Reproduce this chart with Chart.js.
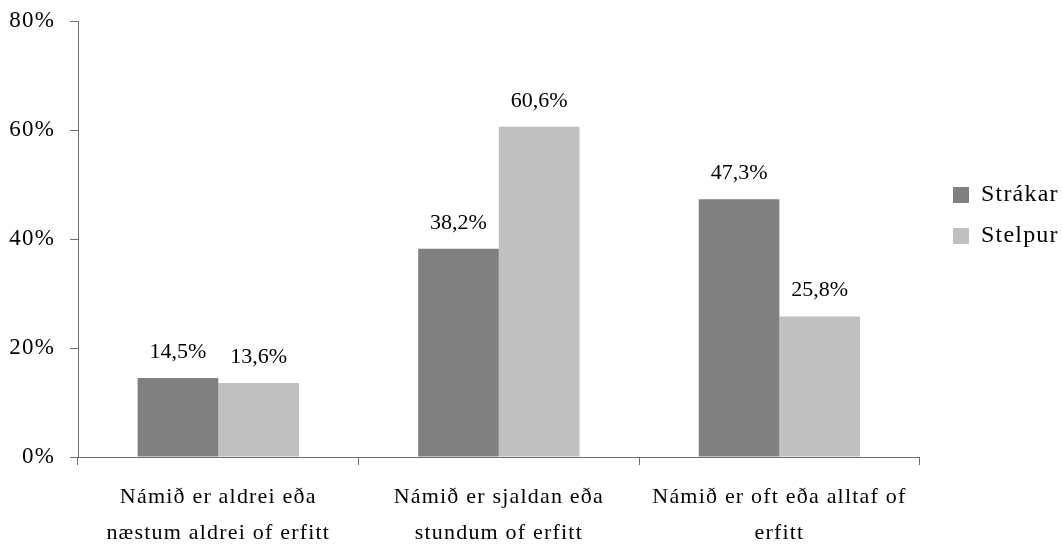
<!DOCTYPE html>
<html>
<head>
<meta charset="utf-8">
<script src="https://cdn.jsdelivr.net/npm/chart.js@4"></script>
<style>
  html, body { margin: 0; padding: 0; background: #fff; }
  #wrap { width: 1063px; height: 547px; }
</style>
</head>
<body>
<div id="wrap"><canvas id="chart" width="1063" height="547"></canvas></div>
<script>
"use strict";

// Data
const categories = [
  ["Námið er aldrei eða", "næstum aldrei of erfitt"],
  ["Námið er sjaldan eða", "stundum of erfitt"],
  ["Námið er oft eða alltaf of", "erfitt"]
];
const seriesNames = ["Strákar", "Stelpur"];
const strakar = [14.5, 38.2, 47.3];
const stelpur = [13.6, 60.6, 25.8];
const yTicks = [0, 20, 40, 60, 80];

const FONT = "'Liberation Serif', 'Times New Roman', serif";
const AXIS_COLOR = "#6e6e6e";

// Format like 14,5%
function pct(v) {
  return v.toFixed(1).replace(".", ",") + "%";
}

// Text spacing for axis / legend text, moves legend, draws value labels
const tweaks = {
  id: "tweaks",
  afterLayout(chart) {
    const lg = chart.legend;
    const h = lg.bottom - lg.top;
    const w = lg.right - lg.left;
    const pad = lg.options.labels.padding;
    const itemH = lg.options.labels.font.size;
    const colH = 2 * (itemH + pad);
    // first legend row centred at y = 195
    lg.top = 195 - itemH / 2 - (pad + h - colH) / 2;
    lg.bottom = lg.top + h;
    lg.left = 936;
    lg.right = 936 + w;
  },
  beforeDraw(chart) {
    chart.ctx.letterSpacing = "1.2px";
  },
  afterDatasetsDraw(chart) {
    const ctx = chart.ctx;
    ctx.save();
    ctx.letterSpacing = "0px";
    ctx.font = "22px " + FONT;
    ctx.fillStyle = "#000";
    ctx.textAlign = "center";
    ctx.textBaseline = "middle";
    chart.data.datasets.forEach((ds, i) => {
      chart.getDatasetMeta(i).data.forEach((bar, j) => {
        ctx.fillText(pct(ds.data[j]), bar.x, bar.y - 26);
      });
    });
    ctx.restore();
  }
};

new Chart(document.getElementById("chart"), {
  type: "bar",
  data: {
    labels: categories,
    datasets: [
      {
        label: seriesNames[0],
        data: strakar,
        backgroundColor: "#808080",
        categoryPercentage: 0.575,
        barPercentage: 1
      },
      {
        label: seriesNames[1],
        data: stelpur,
        backgroundColor: "#c0c0c0",
        categoryPercentage: 0.575,
        barPercentage: 1
      }
    ]
  },
  options: {
    responsive: false,
    animation: false,
    layout: { padding: { top: 21, right: 19, left: 0, bottom: 0 } },
    plugins: {
      legend: {
        position: "right",
        labels: {
          boxWidth: 16,
          boxHeight: 16,
          padding: 17,
          color: "#000",
          font: { family: FONT, size: 24 }
        }
      },
      tooltip: { enabled: false }
    },
    scales: {
      x: {
        afterFit(s) { s.height = 90; },
        grid: {
          offset: true,
          drawOnChartArea: false,
          drawTicks: true,
          tickLength: 8,
          color: AXIS_COLOR
        },
        border: { color: AXIS_COLOR, width: 1 },
        ticks: {
          color: "#000",
          padding: 15,
          maxRotation: 0,
          autoSkip: false,
          font: { family: FONT, size: 22, lineHeight: 1.6 }
        }
      },
      y: {
        min: 0,
        max: 80,
        afterFit(s) { s.width = 78; s.paddingTop = 0; },
        afterBuildTicks(s) { s.ticks = yTicks.map(v => ({ value: v })); },
        grid: {
          drawOnChartArea: false,
          drawTicks: true,
          tickLength: 8,
          color: AXIS_COLOR
        },
        border: { color: AXIS_COLOR, width: 1 },
        ticks: {
          color: "#000",
          padding: 15,
          callback: v => v + "%",
          font: { family: FONT, size: 23, lineHeight: 0.6 }
        }
      }
    }
  },
  plugins: [tweaks]
});
</script>
</body>
</html>
